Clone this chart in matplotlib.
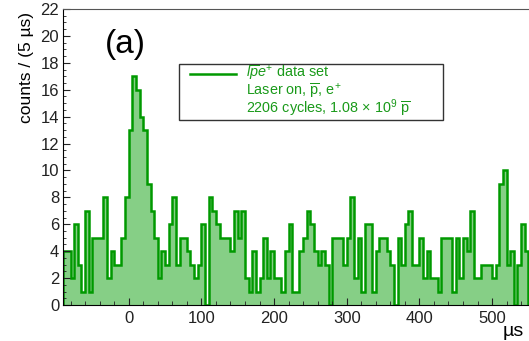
import matplotlib
matplotlib.use('Agg')
import matplotlib.pyplot as plt
from matplotlib.ticker import MultipleLocator
from matplotlib.patches import Rectangle
from matplotlib.lines import Line2D
import numpy as np

plt.rcParams['font.family'] = ['Liberation Sans', 'DejaVu Sans']
plt.rcParams['mathtext.fontset'] = 'custom'
plt.rcParams['mathtext.rm'] = 'Liberation Sans'
plt.rcParams['mathtext.it'] = 'Liberation Sans:italic'

# histogram: 5 us bins starting at -90 us
bin_start = -90
bin_width = 5
counts = [
    4, 4, 2, 6, 3, 1, 7, 1, 5, 5, 5, 8, 2, 4, 3, 3, 5, 8,        # -90 .. -5
    13, 17, 16, 14, 13, 9, 7, 5, 2, 4, 3, 6, 8, 3,               # 0 .. 65
    5, 5, 4, 3, 2, 3,                                            # 70 .. 95
    6, 0, 8, 7, 6, 5, 5, 5, 4, 7, 5, 7, 2, 1, 4, 1, 2, 5, 2, 4,  # 100 .. 195
    2, 2, 1, 4, 6, 1, 1, 4, 5, 7, 6, 4, 3, 4, 3, 0, 5, 5, 5, 3,  # 200 .. 295
    5, 8, 2, 5, 1, 6, 6, 1, 4, 5, 5, 4, 3, 0, 5, 3, 6, 7, 3, 3,  # 300 .. 395
    5, 2, 4, 2, 2, 1, 5, 5, 5, 1, 5, 2, 5, 4, 7, 2, 2, 3, 3, 3,  # 400 .. 495
    2, 3, 9, 10, 3, 4, 0, 3, 6, 4,                               # 500 .. 545
]
edges = bin_start + bin_width * np.arange(len(counts) + 1)

legend_lines = [
    r'$\mathit{l}\overline{p}e^{+}$ data set',
    r'Laser on, $\overline{\mathrm{p}}$, e$^{+}$',
    r'2206 cycles, 1.08 $\times$ 10$^{9}$ $\overline{\mathrm{p}}$',
]

W, H = 529, 341
green = '#009900'
fill_green = '#86cf86'


def fx(x):
    return x / W


def fy(y):
    return (H - y) / H


fig = plt.figure(figsize=(W / 100, H / 100), dpi=100)
ax = fig.add_axes([fx(63.3), fy(305), (564.7 - 63.3) / W, 296 / H])

ax.stairs(counts, edges, fill=True, color=fill_green, linewidth=0)
ax.stairs(counts, edges, color=green, linewidth=1.8)

ax.set_xlim(-90, 600)
ax.set_ylim(0, 22)
ax.xaxis.set_major_locator(MultipleLocator(100))
ax.xaxis.set_minor_locator(MultipleLocator(20))
ax.yaxis.set_major_locator(MultipleLocator(2))
ax.yaxis.set_minor_locator(MultipleLocator(0.5))
ax.tick_params(which='both', direction='in', labelsize=12, colors='#222222')
ax.tick_params(axis='y', which='major', length=5, pad=3)
ax.tick_params(axis='y', which='minor', length=2.5)
ax.tick_params(axis='x', which='major', length=5, pad=4)
ax.tick_params(axis='x', which='minor', length=3)
ax.spines['top'].set_color('#555555')
for s in ['left', 'bottom']:
    ax.spines[s].set_color('black')

fig.text(fx(26), fy(12), 'counts / (5 µs)', rotation=90, ha='center', va='top', fontsize=12.5)
fig.text(fx(503), fy(331), 'µs', ha='left', va='center', fontsize=14)
fig.text(fx(125), fy(44), '(a)', ha='center', va='center', fontsize=24)

# legend box
fig.add_artist(Rectangle((fx(179), fy(120)), (443 - 179) / W, (120 - 64) / H,
                         transform=fig.transFigure, facecolor='white',
                         edgecolor='#333333', linewidth=1.0))
fig.add_artist(Line2D([fx(190), fx(236)], [fy(74), fy(74)], transform=fig.transFigure,
                      color=green, linewidth=1.8))
for txt, y in zip(legend_lines, [73, 91, 109]):
    fig.text(fx(246.5), fy(y), txt, ha='left', va='center', fontsize=10.4, color='#1a9a1a')

fig.savefig('out.png', dpi=100)
